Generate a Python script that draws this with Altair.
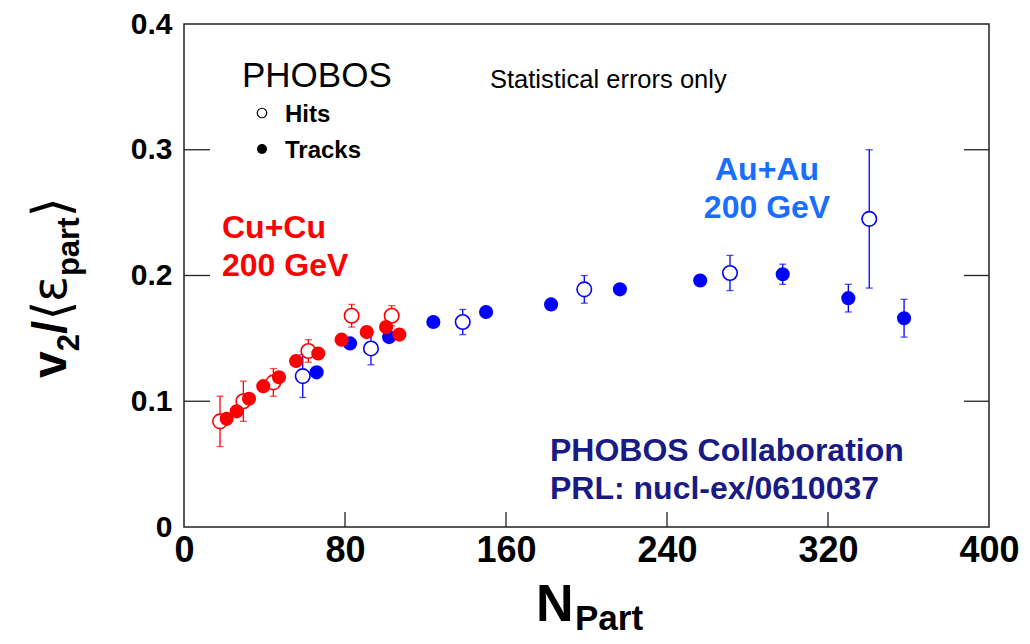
import altair as alt
import pandas as pd

# ---------------- data ----------------
cu_hits_n = [17.9, 29.5, 44.4, 61.8, 83.3, 103.2]
cu_hits_v = [0.084, 0.100, 0.115, 0.140, 0.168, 0.168]
cu_hits_e = [0.020, 0.016, 0.011, 0.009, 0.009, 0.008]

cu_tracks_n = [21.2, 26.2, 32.3, 39.4, 47.2, 55.7, 66.7, 78.3, 90.8, 100.4, 107.0]
cu_tracks_v = [0.086, 0.092, 0.102, 0.112, 0.119, 0.132, 0.138, 0.149, 0.155, 0.159, 0.153]
cu_tracks_e = [0.004, 0.004, 0.004, 0.004, 0.004, 0.004, 0.004, 0.004, 0.004, 0.004, 0.004]

au_hits_n = [59.0, 92.9, 138.5, 198.9, 271.3, 340.5]
au_hits_v = [0.120, 0.142, 0.163, 0.189, 0.202, 0.245]
au_hits_e = [0.017, 0.013, 0.010, 0.011, 0.014, 0.055]

au_tracks_n = [65.9, 82.5, 101.9, 123.9, 150.1, 182.4, 216.6, 256.5, 297.5, 330.1, 357.8]
au_tracks_v = [0.123, 0.146, 0.151, 0.163, 0.171, 0.177, 0.189, 0.196, 0.201, 0.182, 0.166]
au_tracks_e = [0.003, 0.003, 0.003, 0.003, 0.003, 0.003, 0.003, 0.004, 0.008, 0.011, 0.015]

systems = ["Au+Au", "Cu+Cu"]
methods = ["Hits", "Tracks"]

x_ticks = [0, 80, 160, 240, 320, 400]
y_ticks = [0, 0.1, 0.2, 0.3, 0.4]
x_inner_ticks = [80, 160, 240, 320]
y_inner_ticks = [0.1, 0.2, 0.3]

legend_title = "PHOBOS"
note_text = "Statistical errors only"
cu_label = ["Cu+Cu", "200 GeV"]
au_label = ["Au+Au", "200 GeV"]
credit = ["PHOBOS Collaboration", "PRL: nucl-ex/0610037"]
y_title_parts = ["v", "2", "/", "\u27e8", "\u03b5", "part", "\u27e9"]
x_title_parts = ["N", "Part"]

# ---------------- table ----------------
rows = []
def add(sys_, meth, ns, vs, es):
    for n, v, e in zip(ns, vs, es):
        rows.append({"N": n, "v": v, "lo": v - e, "hi": v + e,
                     "sys": sys_, "meth": meth})

add("Au+Au", "Hits", au_hits_n, au_hits_v, au_hits_e)
add("Au+Au", "Tracks", au_tracks_n, au_tracks_v, au_tracks_e)
add("Cu+Cu", "Hits", cu_hits_n, cu_hits_v, cu_hits_e)
add("Cu+Cu", "Tracks", cu_tracks_n, cu_tracks_v, cu_tracks_e)
df = pd.DataFrame(rows)

W, H = 805, 503
FONT = "Liberation Sans, Arial, Helvetica, sans-serif"

xsc = alt.Scale(domain=[0, 400], nice=False, zero=False)
ysc = alt.Scale(domain=[0, 0.4], nice=False, zero=False)
csc = alt.Scale(domain=systems, range=["#0000ff", "#ff0000"])

X = alt.X("N:Q", scale=xsc,
          axis=alt.Axis(values=x_ticks, title=None, grid=False, domain=False,
                        ticks=False, labelFontSize=36, labelFontWeight="bold",
                        labelFont=FONT, labelColor="black", labelPadding=6,
                        labelFlush=False, labelOverlap=False))
Y = alt.Y("v:Q", scale=ysc,
          axis=alt.Axis(values=y_ticks, title=None, grid=False, domain=False,
                        ticks=False, labelFontSize=30, labelFontWeight="bold",
                        labelFont=FONT, labelColor="black", labelPadding=12,
                        labelExpr="datum.value == 0 ? '0' : format(datum.value, '.1f')",
                        labelFlush=False, labelOverlap=False))

base = alt.Chart(df)
col = alt.Color("sys:N", scale=csc, legend=None)

err = base.mark_rule(strokeWidth=1.3).encode(
    x=X, y=alt.Y("lo:Q", scale=ysc), y2="hi:Q", color=col)
cap_lo = base.mark_tick(orient="horizontal", size=7, thickness=1.3).encode(
    x="N:Q", y=alt.Y("lo:Q", scale=ysc), color=col)
cap_hi = base.mark_tick(orient="horizontal", size=7, thickness=1.3).encode(
    x="N:Q", y=alt.Y("hi:Q", scale=ysc), color=col)

open_pts = base.transform_filter(alt.datum.meth == "Hits").mark_point(
    shape="circle", filled=True, fill="white", size=210, strokeWidth=1.6, opacity=1
).encode(x=X, y=Y, stroke=alt.Stroke("sys:N", scale=csc, legend=None))

filled_pts = base.transform_filter(alt.datum.meth == "Tracks").mark_circle(
    size=200, opacity=1
).encode(x=X, y=Y, color=col)

# inward ticks on frame
ytk = alt.Chart(pd.DataFrame({"t": y_inner_ticks}))
xtk = alt.Chart(pd.DataFrame({"t": x_inner_ticks}))
tick_col = "#222222"
ltick = ytk.mark_rule(color=tick_col, strokeWidth=1.3).encode(
    y=alt.Y("t:Q", scale=ysc), x=alt.value(0), x2=alt.value(26))
rtick = ytk.mark_rule(color=tick_col, strokeWidth=1.3).encode(
    y=alt.Y("t:Q", scale=ysc), x=alt.value(W - 25), x2=alt.value(W))
btick = xtk.mark_rule(color=tick_col, strokeWidth=1.3).encode(
    x=alt.X("t:Q", scale=xsc), y=alt.value(H), y2=alt.value(H - 15))

one = alt.Chart(pd.DataFrame({"k": [0]}))

def txt(s, px, py, size, color="black", weight="normal", align="left",
        baseline="middle", angle=0, font=FONT):
    kw = dict(text=s, fontSize=size, color=color, fontWeight=weight, align=align,
              baseline=baseline, font=font)
    if angle:
        kw["angle"] = angle
    return one.mark_text(**kw).encode(x=alt.value(px), y=alt.value(py))

OX, OY = 184, 24  # page position of plot origin

def P(x, y):
    return x - OX, y - OY

layers = [err, cap_lo, cap_hi, open_pts, filled_pts, ltick, rtick, btick]

# legend block
layers.append(txt(legend_title, *P(242, 76), 35))
layers.append(one.mark_point(shape="circle", filled=True, fill="white", stroke="black",
                             strokeWidth=1.2, size=90, opacity=1)
              .encode(x=alt.value(P(262, 113)[0]), y=alt.value(P(262, 113)[1])))
layers.append(one.mark_circle(color="black", size=100, opacity=1)
              .encode(x=alt.value(P(262, 149)[0]), y=alt.value(P(262, 149)[1])))
layers.append(txt(methods[0], *P(285, 115), 24, weight="bold"))
layers.append(txt(methods[1], *P(285, 151), 24, weight="bold"))
layers.append(txt(note_text, *P(490, 80), 25.5))

# system labels
layers.append(txt(cu_label[0], *P(222, 228), 32, color="#ff0000", weight="bold"))
layers.append(txt(cu_label[1], *P(222, 266), 32, color="#ff0000", weight="bold"))
layers.append(txt(au_label[0], *P(767, 170), 32, color="#1a6eff", weight="bold", align="center"))
layers.append(txt(au_label[1], *P(767, 208), 32, color="#1a6eff", weight="bold", align="center"))
layers.append(txt(credit[0], *P(550, 451), 32, color="#1a1a85", weight="bold"))
layers.append(txt(credit[1], *P(550, 489), 32, color="#1a1a85", weight="bold"))

# y title pieces (rotated, reading upward)
MAIN, SUB = 48, 31
yb_main, yb_sub = 66, 79
y0 = 378
w_v = 0.556 * MAIN
w_2 = 0.556 * SUB
w_sl = 0.278 * MAIN
w_br = 0.39 * MAIN
w_eps = 0.54 * MAIN
w_part = 1.889 * SUB
ys = [y0]
for w in [w_v, w_2, w_sl, w_br, w_eps, w_part]:
    ys.append(ys[-1] - w)
ALT_FONT = "DejaVu Sans, sans-serif"
specs = [
    (y_title_parts[0], yb_main, ys[0], MAIN, "bold", FONT),
    (y_title_parts[1], yb_sub, ys[1], SUB, "bold", FONT),
    (y_title_parts[2], yb_main, ys[2], MAIN, "bold", FONT),
    (y_title_parts[3], yb_main + 3, ys[3], MAIN + 4, "normal", ALT_FONT),
    (y_title_parts[4], yb_main, ys[4], MAIN, "normal", ALT_FONT),
    (y_title_parts[5], yb_sub, ys[5], SUB, "bold", FONT),
    (y_title_parts[6], yb_main + 3, ys[6], MAIN + 4, "normal", ALT_FONT),
]
for s, bx, sy, fs, fw, fnt in specs:
    layers.append(txt(s, *P(bx, sy), fs, weight=fw, baseline="alphabetic",
                      angle=270, font=fnt))

# x title
layers.append(txt(x_title_parts[0], *P(536, 621), 52, weight="bold", baseline="alphabetic"))
layers.append(txt(x_title_parts[1], *P(575, 630), 35, weight="bold", baseline="alphabetic"))

chart = alt.layer(*layers).properties(
    width=W, height=H,
    autosize=alt.AutoSizeParams(type="none"),
    padding={"left": 176, "top": 16, "right": 33, "bottom": 109},
    background="white",
).configure_view(stroke="#222222", strokeWidth=1.5)

chart.save("out.html", embed_options={"renderer": "svg", "actions": False})
